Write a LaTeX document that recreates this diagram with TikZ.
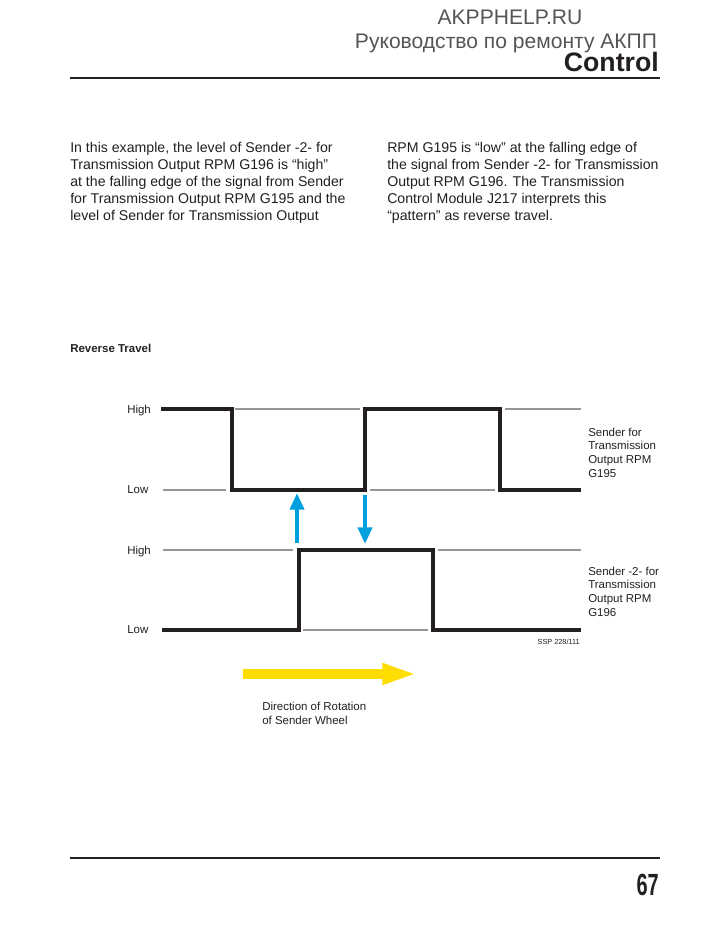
\documentclass[tikz,border=0pt]{standalone}
\usepackage{fontspec}
\setmainfont{Liberation Sans}
\usetikzlibrary{arrows.meta}
\definecolor{textgrau}{RGB}{35,31,32}
\definecolor{kopfgrau}{RGB}{85,85,85}
\definecolor{liniengrau}{RGB}{150,150,150}
\definecolor{pfeilblau}{RGB}{0,160,222}
\definecolor{pfeilgelb}{RGB}{255,221,0}
\begin{document}
\begin{tikzpicture}[x=0.75pt, y=-0.75pt,
    signal/.style={line width=3pt, textgrau},
    pegel/.style={line width=0.8pt, liniengrau},
    kopf/.style={font=\fontsize{15.8}{15.8}\selectfont, text=kopfgrau, inner sep=0pt, anchor=base},
    fliesstext/.style={font=\fontsize{10.6}{12.75}\selectfont, text=textgrau, inner sep=0pt, align=left, anchor=base west},
    beschr/.style={font=\fontsize{8.6}{10.25}\selectfont, text=textgrau, inner sep=0pt, align=left, anchor=base west},
    blaupfeil/.style={line width=3pt, pfeilblau, -{Triangle[length=12.5pt, width=10.5pt]}},
    gelbpfeil/.style={line width=7.5pt, pfeilgelb, -{Triangle[length=26pt, width=14.5pt]}}]
    \useasboundingbox (0,0) rectangle (717,928);
    % Kopfzeile:
    \node[kopf] (seite) at (510,24) {AKPPHELP.RU};
    \node[kopf] (titel) at (506,48) {Руководство по ремонту АКПП};
    \node[inner sep=0pt, anchor=base east, font=\fontsize{20}{20}\selectfont\bfseries, text=textgrau] (kapitel) at (659,71) {Control};
    \draw[line width=1.6pt, textgrau] (70,78) -- (660,78); % obere Linie
    % Fliesstext (Anker = letzte Zeile):
    \node[fliesstext] (spalteA) at (70,220) {In this example, the level of Sender -2- for\\
        Transmission Output RPM G196 is “high”\\
        at the falling edge of the signal from Sender\\
        for Transmission Output RPM G195 and the\\
        level of Sender for Transmission Output};
    \node[fliesstext] (spalteB) at (387,220) {RPM G195 is “low” at the falling edge of\\
        the signal from Sender -2- for Transmission\\
        Output RPM G196. The Transmission\\
        Control Module J217 interprets this\\
        “pattern” as reverse travel.};
    \node[inner sep=0pt, anchor=base west, font=\fontsize{8.6}{8.6}\selectfont\bfseries, text=textgrau] (ueberschrift) at (70,352) {Reverse Travel};
    % Signal G195:
    \node[beschr] (hochA) at (127,413) {High};
    \node[beschr] (tiefA) at (127,493) {Low};
    \draw[pegel] (235,409) -- (360,409);
    \draw[pegel] (505,409) -- (581,409);
    \draw[pegel] (163,490) -- (226,490);
    \draw[pegel] (370,490) -- (495,490);
    \draw[signal] (161,409) -- (232,409) -- (232,490) -- (365,490) -- (365,409) -- (500,409) -- (500,490) -- (581,490);
    \node[beschr] (geberA) at (588,477) {Sender for\\ Transmission\\ Output RPM\\ G195};
    % Signal G196:
    \node[beschr] (hochB) at (127,554) {High};
    \node[beschr] (tiefB) at (127,633) {Low};
    \draw[pegel] (163,550) -- (293,550);
    \draw[pegel] (438,550) -- (581,550);
    \draw[pegel] (303,630) -- (428,630);
    \draw[signal] (162,630) -- (299,630) -- (299,550) -- (433,550) -- (433,630) -- (581,630);
    \node[beschr] (geberB) at (588,616) {Sender -2- for\\ Transmission\\ Output RPM\\ G196};
    \node[inner sep=0pt, anchor=base east, font=\fontsize{5.5}{5.5}\selectfont, text=textgrau] (ssp) at (580,644) {SSP 228/111};
    % Flanken:
    \draw[blaupfeil] (297,543) -- (297,493); % steigend
    \draw[blaupfeil] (365,495) -- (365,544); % fallend
    % Drehrichtung:
    \draw[gelbpfeil] (243,674) -- (417,674);
    \node[beschr] (richtung) at (262,724) {Direction of Rotation\\ of Sender Wheel};
    % Fusszeile:
    \draw[line width=1.6pt, textgrau] (70,858) -- (660,858); % untere Linie
    \node[inner sep=0pt, anchor=base east, font=\fontsize{23}{23}\selectfont\bfseries, text=textgrau] (seitenzahl) at (659,895) {\scalebox{0.65}[1]{67}};
\end{tikzpicture}
\end{document}
